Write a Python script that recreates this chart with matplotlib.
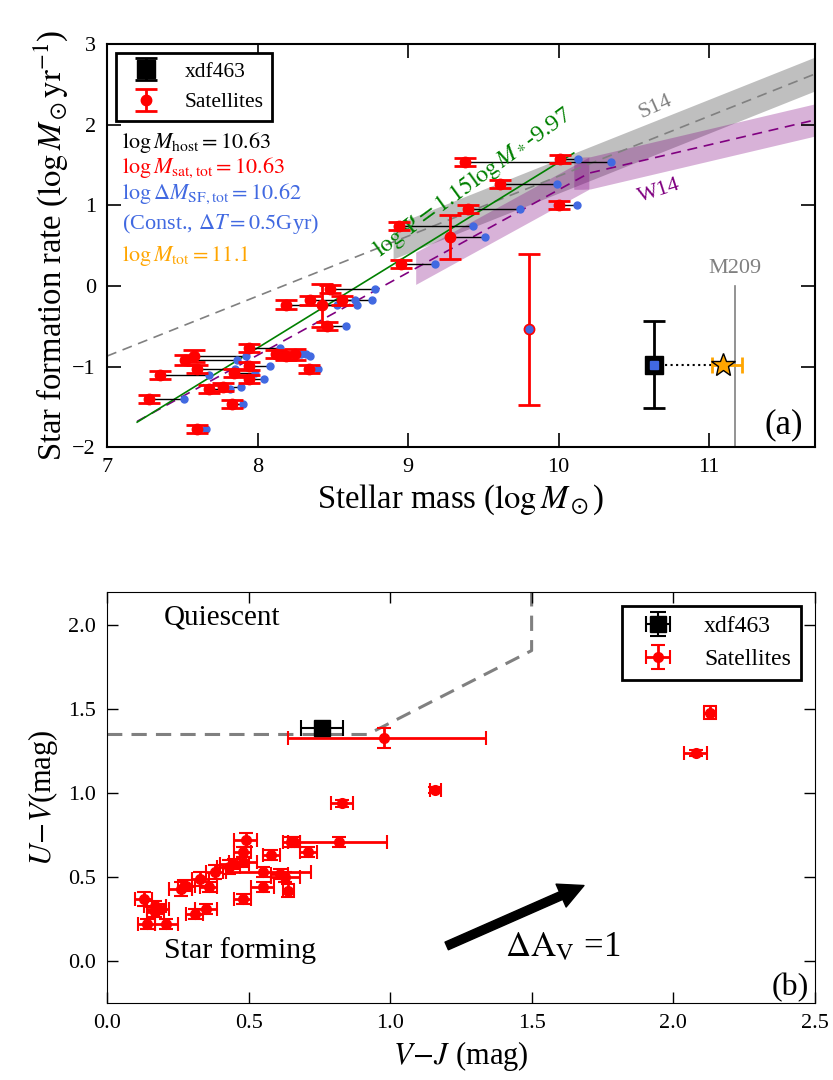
import numpy as np
import matplotlib
matplotlib.use('Agg')
import matplotlib.pyplot as plt

plt.rcParams['font.family'] = ['Liberation Serif', 'DejaVu Serif']
plt.rcParams['mathtext.fontset'] = 'stix'

# ---- panel (a): SFR vs stellar mass ----
sat_mass = [9.38, 10.01, 9.61, 9.40, 10.00, 8.94, 9.28, 8.95, 9.80,
            8.48, 8.35, 8.56, 8.19, 8.43, 8.46, 7.94, 8.12, 8.19, 8.25, 8.34,
            7.58, 7.52, 7.60, 7.35, 7.94, 7.84, 7.94, 7.68, 7.77, 7.28, 7.83, 7.60]
sat_sfr = [1.54, 1.58, 1.26, 0.96, 1.01, 0.74, 0.61, 0.27, -0.54,
           -0.04, -0.18, -0.18, -0.23, -0.24, -0.50, -0.77, -0.85, -0.87, -0.85, -1.03,
           -0.87, -0.92, -1.03, -1.10, -0.99, -1.08, -1.15, -1.28, -1.25, -1.40, -1.47, -1.77]
sat_sfr_err = [0.05, 0.05, 0.05, 0.05, 0.05, 0.05, 0.27, 0.05, 0.94,
               0.05, 0.05, 0.05, 0.05, 0.27, 0.05, 0.05, 0.05, 0.05, 0.07, 0.05,
               0.07, 0.06, 0.05, 0.05, 0.05, 0.05, 0.05, 0.05, 0.05, 0.05, 0.05, 0.05]
sf_mass = [10.35, 10.13, 9.99, 9.74, 10.12, 9.43, 9.51, 9.18, 9.80,
           8.78, 8.76, 8.65, 8.66, 8.53, 8.59, 8.15, 8.29, 8.35, 8.32, 8.40,
           7.92, 7.86, 7.85, 7.68, 8.08, 7.98, 8.04, 7.82, 7.89, 7.51, 7.90, 7.66]

host_mass, host_sfr, host_sfr_err = 10.63, -0.98, 0.54
tot_mass, tot_xerr = 11.09, [[0.07], [0.13]]
m209_mass = 11.17

s14_x, s14_y = [7.0, 11.7], [-0.87, 2.63]
w14_x, w14_y = [7.2, 10.2, 11.7], [-1.68, 1.40, 2.06]
fit_x, fit_y = [7.2, 10.1], [-1.69, 1.65]

# ---- panel (b): UVJ ----
vj = [0.13, 0.14, 0.17, 0.18, 0.17, 0.21, 0.26, 0.28, 0.33, 0.36, 0.31, 0.35,
      0.38, 0.43, 0.45, 0.48, 0.48, 0.49, 0.48, 0.55, 0.55, 0.58, 0.61, 0.63,
      0.64, 0.65, 0.66, 0.71, 0.82, 0.83, 0.98, 1.16, 2.08, 2.13]
uv = [0.37, 0.22, 0.33, 0.31, 0.29, 0.22, 0.43, 0.45, 0.49, 0.44, 0.28, 0.31,
      0.53, 0.56, 0.58, 0.59, 0.65, 0.72, 0.37, 0.53, 0.44, 0.63, 0.52, 0.50,
      0.42, 0.71, 0.71, 0.65, 0.71, 0.94, 1.33, 1.02, 1.24, 1.48]
vj_lo = [0.03, 0.03, 0.04, 0.04, 0.03, 0.04, 0.04, 0.03, 0.03, 0.03, 0.03, 0.04,
         0.03, 0.04, 0.05, 0.05, 0.03, 0.04, 0.03, 0.13, 0.04, 0.03, 0.03, 0.05,
         0.02, 0.03, 0.02, 0.03, 0.18, 0.04, 0.34, 0.02, 0.04, 0.02]
vj_hi = [0.03, 0.03, 0.04, 0.04, 0.03, 0.04, 0.04, 0.03, 0.03, 0.03, 0.03, 0.04,
         0.03, 0.04, 0.05, 0.05, 0.03, 0.04, 0.03, 0.17, 0.04, 0.03, 0.03, 0.05,
         0.02, 0.03, 0.02, 0.03, 0.17, 0.04, 0.36, 0.02, 0.04, 0.02]
uv_err = [0.04, 0.03, 0.03, 0.03, 0.03, 0.03, 0.04, 0.03, 0.04, 0.03, 0.03, 0.03,
          0.04, 0.04, 0.03, 0.03, 0.03, 0.04, 0.03, 0.03, 0.03, 0.03, 0.03, 0.03,
          0.04, 0.03, 0.03, 0.03, 0.03, 0.02, 0.06, 0.02, 0.02, 0.04]
host_vj, host_uv, host_vj_err, host_uv_err = 0.76, 1.39, 0.075, 0.03
qbox_x, qbox_y = [0.0, 0.92, 1.5, 1.5], [1.35, 1.35, 1.85, 2.2]

fig = plt.figure(figsize=(8.33, 10.8), dpi=100)

# ================= panel (a) =================
ax = fig.add_axes([0.1285, 0.586, 0.8495, 0.373])
bx = np.linspace(8.9, 11.7, 50)
sy = np.interp(bx, s14_x, s14_y)
ax.fill_between(bx, sy - 0.21, sy + 0.21, color='gray', alpha=0.5, lw=0, zorder=1)
lo_x = np.linspace(9.05, 10.2, 30)
hi_x = np.linspace(10.1, 11.7, 30)
ax.fill_between(lo_x, np.interp(lo_x, w14_x[:2], w14_y[:2]) - 0.2,
                np.interp(lo_x, w14_x[:2], w14_y[:2]) + 0.2,
                color='purple', alpha=0.3, lw=0, zorder=1)
ax.fill_between(hi_x, np.interp(hi_x, w14_x[1:], w14_y[1:]) - 0.2,
                np.interp(hi_x, w14_x[1:], w14_y[1:]) + 0.2,
                color='purple', alpha=0.3, lw=0, zorder=1)
ax.plot(s14_x, s14_y, color='gray', ls='--', lw=1.2, dashes=(6, 4), zorder=2)
ax.plot(w14_x, w14_y, color='purple', ls='--', lw=1.2, dashes=(6, 4), zorder=2)
ax.plot(fit_x, fit_y, color='green', lw=1.2, zorder=2)

for m, s, b in zip(sat_mass, sat_sfr, sf_mass):
    ax.plot([m, b], [s, s], color='black', lw=1, zorder=3)
ax.plot(sf_mass, sat_sfr, 'o', color='royalblue', ms=5, mec='royalblue', zorder=4)
ax.errorbar(sat_mass, sat_sfr, yerr=sat_sfr_err, fmt='o', color='red', ms=7.5,
            elinewidth=2, capsize=8, capthick=2, zorder=5, label='Satellites')
ax.plot(sf_mass[8], sat_sfr[8], 'o', color='royalblue', ms=5, zorder=6)

ax.plot([host_mass, tot_mass], [host_sfr, host_sfr], 'k:', lw=1.5, zorder=4)
ax.errorbar(host_mass, host_sfr, yerr=host_sfr_err, fmt='s', color='black', ms=13,
            elinewidth=2, capsize=8, capthick=2, zorder=6, label='xdf463')
ax.plot(host_mass, host_sfr, 's', color='royalblue', ms=6, zorder=7)
ax.errorbar(tot_mass, host_sfr, xerr=tot_xerr, fmt='none', ecolor='orange',
            elinewidth=2, capsize=6, capthick=2, zorder=6)
ax.plot(tot_mass, host_sfr, '*', color='orange', mec='black', ms=18, zorder=7)
ax.plot([m209_mass, m209_mass], [-2, 0.0], color='gray', lw=1.2, zorder=2)
ax.text(m209_mass, 0.1, 'M209', color='gray', fontsize=16, ha='center', va='bottom')

ax.text(10.64, 2.22, 'S14', color='gray', fontsize=16, rotation=24,
        ha='center', va='center')
ax.text(10.67, 1.18, 'W14', color='purple', fontsize=16, rotation=18,
        ha='center', va='center')
ax.text(8.81, 0.36, r'$\log\Psi=1.15\log M_*$-9.97', color='green', fontsize=17.5,
        rotation=36, rotation_mode='anchor', ha='left', va='baseline')

ax.text(7.1, 1.78, r'$\log M_{\rm host}=10.63$', color='black', fontsize=16, va='center')
ax.text(7.1, 1.47, r'$\log M_{\rm sat,tot}=10.63$', color='red', fontsize=16, va='center')
ax.text(7.1, 1.14, r'$\log\Delta M_{\rm SF,tot}=10.62$', color='royalblue', fontsize=16, va='center')
ax.text(7.1, 0.77, r'(Const., $\Delta T=0.5$Gyr)', color='royalblue', fontsize=16, va='center')
ax.text(7.1, 0.37, r'$\log M_{\rm tot}=11.1$', color='orange', fontsize=16, va='center')
ax.text(11.62, -1.72, '(a)', fontsize=25, ha='right', va='center')

ax.set_xlim(7, 11.7)
ax.set_ylim(-2, 3)
ax.set_xticks([7, 8, 9, 10, 11])
ax.set_yticks([-2, -1, 0, 1, 2, 3])
ax.tick_params(direction='in', top=True, right=True, length=10, width=1.2,
               labelsize=16, pad=8)
for sp in ax.spines.values():
    sp.set_linewidth(1.5)
ax.set_xlabel(r'Stellar mass ($\log M_\odot$)', fontsize=23.5)
ax.set_ylabel(r'Star formation rate ($\log M_\odot{\rm yr}^{-1}$)', fontsize=23.5, labelpad=2)
h, l = ax.get_legend_handles_labels()
leg = ax.legend(h[::-1], l[::-1], loc='upper left', fontsize=15.5, fancybox=False,
                edgecolor='black', framealpha=1, borderaxespad=0.4, handlelength=2.0)
leg.get_frame().set_linewidth(2)

# ================= panel (b) =================
bx2 = fig.add_axes([0.1285, 0.0713, 0.8495, 0.3807])
bx2.plot(qbox_x, qbox_y, color='gray', ls='--', lw=2.2, dashes=(5, 3), zorder=1)
bx2.errorbar(vj, uv, xerr=[vj_lo, vj_hi], yerr=uv_err, fmt='o', color='red', ms=7,
             elinewidth=2, capsize=5, capthick=1.5, zorder=3, label='Satellites')
bx2.errorbar(host_vj, host_uv, xerr=host_vj_err, yerr=host_uv_err, fmt='s',
             color='black', ms=12, elinewidth=1.5, capsize=6, capthick=1.5,
             zorder=4, label='xdf463')
bx2.annotate('', xy=(1.685, 0.45), xytext=(1.20, 0.09),
             arrowprops=dict(facecolor='black', edgecolor='black', width=6,
                             headwidth=18, headlength=18))
bx2.text(1.61, 0.08, r'$\Delta{\rm A}_{\rm V}$ =1', fontsize=25, ha='center', va='center')
bx2.text(0.2, 2.05, 'Quiescent', fontsize=21, ha='left', va='center')
bx2.text(0.2, 0.06, 'Star forming', fontsize=21.5, ha='left', va='center')
bx2.text(2.48, -0.16, '(b)', fontsize=23, ha='right', va='center')

bx2.set_xlim(0, 2.5)
bx2.set_ylim(-0.25, 2.2)
bx2.set_xticks([0, 0.5, 1.0, 1.5, 2.0, 2.5])
bx2.set_xticklabels(['0.0', '0.5', '1.0', '1.5', '2.0', '2.5'])
bx2.set_yticks([0, 0.5, 1.0, 1.5, 2.0])
bx2.set_yticklabels(['0.0', '0.5', '1.0', '1.5', '2.0'])
bx2.tick_params(direction='in', top=True, right=True, length=8, width=1,
                labelsize=16, pad=8)
bx2.set_xlabel(r'$V\!-\!J$ (mag)', fontsize=22)
bx2.set_ylabel(r'$U\!-\!V$(mag)', fontsize=22, labelpad=6)
h, l = bx2.get_legend_handles_labels()
leg2 = bx2.legend(h[::-1], l[::-1], loc='upper right', fontsize=17, fancybox=False,
                  edgecolor='black', framealpha=1, borderaxespad=0.6, handlelength=2.3)
leg2.get_frame().set_linewidth(2)

fig.savefig('out.png', dpi=100)
